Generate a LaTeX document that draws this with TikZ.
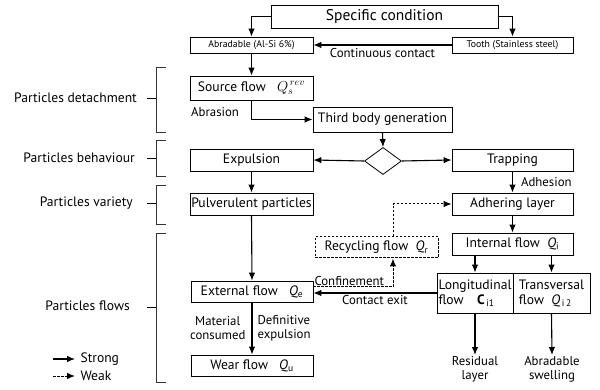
\documentclass[tikz,border=0pt]{standalone}
\usepackage{fontspec}
\setmainfont{PT Sans}
\usepackage{amsmath}
\usetikzlibrary{shapes.geometric}
\usetikzlibrary{arrows.meta, positioning, calc}

\begin{document}
\begin{tikzpicture}[x=1pt, y=-1pt,
    box/.style={rectangle, draw, line width=0.8pt, inner sep=1pt, font=\fontsize{13.6}{15}\selectfont},
    plain/.style={inner sep=1pt, font=\fontsize{12.8}{14}\selectfont},
    side/.style={inner sep=1pt, font=\fontsize{13.6}{15}\selectfont},
    strong/.style={line width=1.1pt, -{Latex[length=8pt, width=6.5pt]}},
    weak/.style={line width=1pt, dash pattern=on 2.5pt off 1.5pt, -{Latex[length=8pt, width=6.5pt]}},
    brack/.style={line width=0.9pt, black!80}]
    \useasboundingbox (0,0) rectangle (600,390);

    % Nodes
    \node[box, minimum width=227pt, minimum height=23pt, font=\fontsize{15.5}{17}\selectfont] (spec) at (384.5,16.5) {Specific condition};
    \node[box, minimum width=123pt, minimum height=16pt, font=\fontsize{9.8}{11}\selectfont] (abr) at (251.5,45) {Abradable (Al-Si 6\%)};
    \node[box, minimum width=121pt, minimum height=16pt, font=\fontsize{9.8}{11}\selectfont] (tooth) at (512.5,45) {Tooth (Stainless steel)};
    \node[box, minimum width=123pt, minimum height=24pt] (src) at (251.5,88) {Source flow\;\; $Q_{s}^{\,rev}$};
    \node[box, minimum width=139pt, minimum height=25pt] (third) at (382.5,119.5) {Third body generation};
    \node[diamond, draw, line width=0.8pt, inner sep=0pt, minimum width=37pt, minimum height=27pt] (dia) at (383,161) {};
    \node[box, minimum width=123pt, minimum height=22pt] (expul) at (251.5,160) {Expulsion};
    \node[box, minimum width=121pt, minimum height=22pt] (trap) at (512.5,160) {Trapping};
    \node[box, minimum width=123pt, minimum height=22pt] (pulv) at (251.5,204) {Pulverulent particles};
    \node[box, minimum width=121pt, minimum height=22pt] (adh) at (512.5,204) {Adhering layer};
    \node[box, minimum width=121pt, minimum height=22pt] (intern) at (512.5,244) {Internal flow\; \textit{Q}\textsubscript{i}};
    \node[box, dash pattern=on 2.5pt off 1.5pt, line width=1pt, minimum width=123pt, minimum height=21pt] (recyc) at (376.5,247.5) {Recycling flow\; \textit{Q}\textsubscript{r}};
    \node[box, minimum width=76pt, minimum height=40pt, align=left] (longi) at (475,293) {Longitudinal\\flow\quad \textbf{C}\textsubscript{\,i1}};
    \node[box, minimum width=77pt, minimum height=40pt, align=left] (trans) at (551.5,293) {Transversal\\flow\; \textit{Q}\textsubscript{\,i\,2}};
    \node[box, minimum width=122pt, minimum height=21pt] (ext) at (252,291.5) {External flow\;\; \textit{Q}\textsubscript{e}};
    \node[box, minimum width=122pt, minimum height=21pt] (wear) at (252,365.5) {Wear flow\;\; \textit{Q}\textsubscript{u}};
    \node[plain, align=center, anchor=north] (resid) at (475,355) {Residual\\layer};
    \node[plain, align=center, anchor=north] (swell) at (552,355) {Abradable\\swelling};
    \coordinate (cf) at (393,287);

    % Edges
    \draw[strong] (spec.west) -| (abr.north);
    \draw[strong] (spec.east) -| (tooth.north);
    \draw[strong, {Latex[length=8pt, width=6.5pt]}-] (abr.east) -- (tooth.west)
        node[plain, midway, below=2pt] {Continuous contact};
    \draw[strong] (abr.south) -- (src.north);
    \draw[strong] (src.south) |- (third.west);
    \node[plain, anchor=west] at (190,112) {Abrasion};
    \draw[strong] (third.south) -- (dia.north);
    \draw[strong] (dia.west) -- (expul.east);
    \draw[strong] (dia.east) -- (trap.west);
    \draw[strong] (expul.south) -- (pulv.north);
    \draw[strong] (trap.south) -- (adh.north) node[plain, midway, right=7pt] {Adhesion};
    \draw[strong] (pulv.south) -- (ext.north);
    \draw[strong] (adh.south) -- (intern.north);
    \draw[strong] (longi.north |- intern.south) -- (longi.north);
    \draw[strong] (trans.north |- intern.south) -- (trans.north);
    \draw[strong] (longi.south) -- (resid.north);
    \draw[strong] (trans.south) -- (swell.north);
    \draw[strong] (longi.west) -- (longi.west -| ext.east)
        node[plain, midway, below=1pt] {Contact exit};
    \draw[weak] (ext.east |- cf) -- (cf)
        node[plain, midway, above=0pt, xshift=-4pt] {Confinement} -- (cf |- recyc.south);
    \draw[weak] (cf |- recyc.north) |- (adh.west);
    \draw[strong] (ext.south) -- (wear.north)
        node[plain, midway, left=5pt, align=center] {Material\\consumed}
        node[plain, midway, right=4pt, align=left] {Definitive\\expulsion};

    % Brackets
    \draw[brack] (166,67) -- (156,67) -- (156,132) -- (166,132);
    \draw[brack] (166,140) -- (156,140) -- (156,176) -- (166,176);
    \draw[brack] (166,185) -- (156,185) -- (156,224) -- (166,224);
    \draw[brack] (166,233) -- (156,233) -- (156,382) -- (166,382);
    \draw[line width=0.9pt] (147,98) -- (156,98);
    \draw[line width=0.9pt] (147,158) -- (156,158);
    \draw[line width=0.9pt] (147,203) -- (156,203);
    \draw[line width=0.9pt] (147,307) -- (156,307);
    \node[side, anchor=east] (pdet) at (138,98) {Particles detachment};
    \node[side, anchor=east] (pbeh) at (136,158) {Particles behaviour};
    \node[side, anchor=east] (pvar) at (134,203) {Particles variety};
    \node[side, anchor=east] (pflo) at (131,306) {Particles flows};

    % Legend
    \coordinate (s1) at (53,359);
    \coordinate (s2) at (75,359);
    \coordinate (w1) at (53,376);
    \coordinate (w2) at (75,376);
    \draw[strong] (s1) -- (s2) node[side, right=4pt] {Strong};
    \draw[weak] (w1) -- (w2) node[side, right=4pt] {Weak};
\end{tikzpicture}
\end{document}
